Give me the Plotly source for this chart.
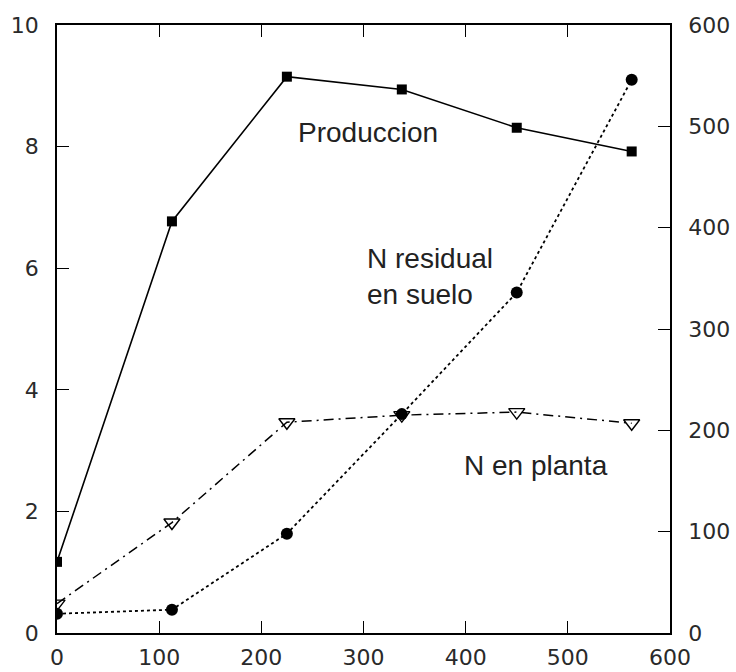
import plotly.graph_objects as go

# Data
n_dose = [0, 112.5, 225, 337.5, 450, 562.5]
produccion = [1.17, 6.77, 9.15, 8.94, 8.31, 7.92]
n_residual = [19, 23, 98, 216, 336, 546]
n_planta = [29, 109, 208, 215, 218, 207]

x_ticks = [0, 100, 200, 300, 400, 500, 600]
y_ticks = [0, 2, 4, 6, 8, 10]
y2_ticks = [0, 100, 200, 300, 400, 500, 600]

fig = go.Figure()

fig.add_trace(go.Scatter(
    x=n_dose, y=produccion, mode="lines+markers", name="Produccion",
    line=dict(color="black", width=1.6),
    marker=dict(symbol="square", size=10, color="black"),
    yaxis="y"))

fig.add_trace(go.Scatter(
    x=n_dose, y=n_residual, mode="lines+markers", name="N residual en suelo",
    line=dict(color="black", width=1.8, dash="dot"),
    marker=dict(symbol="circle", size=12, color="black"),
    yaxis="y2"))

fig.add_trace(go.Scatter(
    x=n_dose, y=n_planta, mode="lines+markers", name="N en planta",
    line=dict(color="black", width=1.5, dash="10px,5px,2px,5px"),
    marker=dict(symbol="triangle-down-open", size=14, color="black",
                line=dict(width=1.4, color="black")),
    yaxis="y2"))

tick_font = dict(family="DejaVu Sans", size=22, color="#2a2a2a")
label_font = dict(family="Liberation Sans", size=28, color="#222")

fig.add_annotation(x=304, y=8.24, xref="x", yref="y", text="Produccion",
                   showarrow=False, font=label_font, xanchor="center", yanchor="middle")
fig.add_annotation(x=301, y=5.87, xref="x", yref="y", text="N residual<br>en suelo",
                   showarrow=False, font=label_font, xanchor="left", yanchor="middle",
                   align="left")
fig.add_annotation(x=469, y=2.76, xref="x", yref="y", text="N en planta",
                   showarrow=False, font=label_font, xanchor="center", yanchor="middle")

fig.update_layout(
    width=736, height=672,
    margin=dict(l=57, r=66, t=25, b=39),
    paper_bgcolor="white", plot_bgcolor="white",
    showlegend=False,
    xaxis=dict(range=[0, 600], tickvals=x_ticks, ticks="inside", ticklen=12,
               tickwidth=1.4, tickcolor="black", showline=True, linecolor="black",
               linewidth=1.8, mirror="ticks", showgrid=False, zeroline=False,
               tickfont=tick_font, ticklabelstandoff=4, automargin=False),
    yaxis=dict(range=[0, 10], tickvals=y_ticks, ticks="inside", ticklen=12,
               tickwidth=1.4, tickcolor="black", showline=True, linecolor="black",
               linewidth=1.8, showgrid=False, zeroline=False,
               tickfont=tick_font, ticklabelstandoff=12, automargin=False),
    yaxis2=dict(range=[0, 600], tickvals=y2_ticks, ticks="inside", ticklen=12,
                tickwidth=1.4, tickcolor="black", showline=True, linecolor="black",
                linewidth=1.8, showgrid=False, zeroline=False, overlaying="y",
                side="right", tickfont=tick_font, ticklabelstandoff=12,
                automargin=False),
)

fig.write_html("out.html")
